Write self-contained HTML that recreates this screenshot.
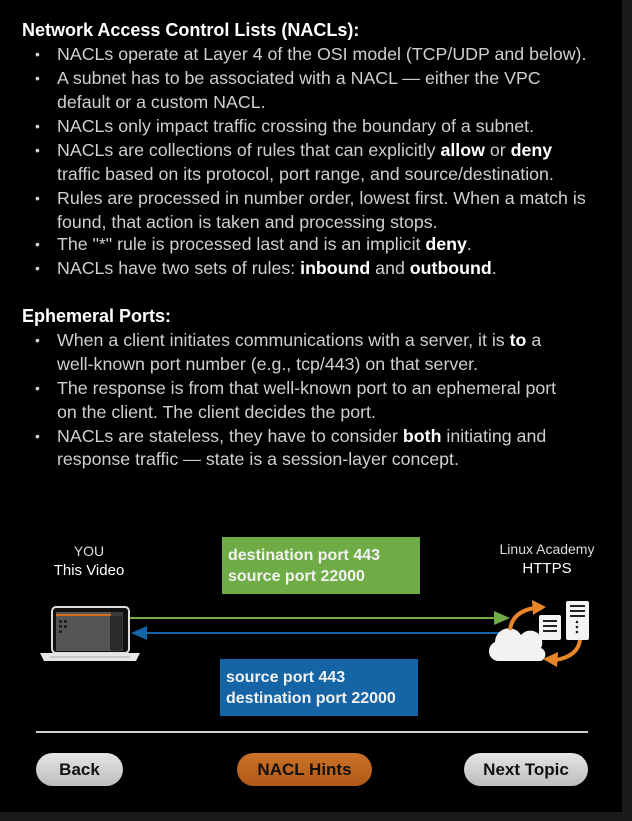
<!DOCTYPE html>
<html><head><meta charset="utf-8"><style>
*{margin:0;padding:0;box-sizing:border-box}
body{width:632px;height:821px;background:#000;position:relative;overflow:hidden;font-family:"Liberation Sans",sans-serif}
.strip{position:absolute;left:622px;top:0;width:10px;height:821px;background:#1a1a1a}
.bot{position:absolute;left:0;top:812px;width:632px;height:9px;background:#1a1a1a}
.t{position:absolute;white-space:nowrap;font-size:17.8px;line-height:24px;color:#cfcfcf}
.h{left:22px;color:#fff;font-weight:bold;font-size:18px}
.l{left:57px}
.b{left:35px;font-size:14px}
b{color:#fff}
.box{position:absolute;color:#f2f2f2;font-weight:bold;font-size:16px;line-height:21px;padding:8px 0 0 6px}
.lbl{position:absolute;text-align:center;font-size:14px;color:#ddd;width:120px}
.btn{position:absolute;top:753px;height:33px;border-radius:17px;font-weight:bold;font-size:17px;line-height:33px;text-align:center;color:#111;background:linear-gradient(#e4e4e4,#bdbdbd)}
</style></head><body>
<div class="strip"></div><div class="bot"></div>

<div class="t h" style="top:18px">Network Access Control Lists (NACLs):</div>
<div class="t b" style="top:42px">•</div><div class="t l" style="top:42px">NACLs operate at Layer 4 of the OSI model (TCP/UDP and below).</div>
<div class="t b" style="top:66px">•</div><div class="t l" style="top:66px">A subnet has to be associated with a NACL — either the VPC</div>
<div class="t l" style="top:90px">default or a custom NACL.</div>
<div class="t b" style="top:114px">•</div><div class="t l" style="top:114px">NACLs only impact traffic crossing the boundary of a subnet.</div>
<div class="t b" style="top:138px">•</div><div class="t l" style="top:138px">NACLs are collections of rules that can explicitly <b>allow</b> or <b>deny</b></div>
<div class="t l" style="top:162px">traffic based on its protocol, port range, and source/destination.</div>
<div class="t b" style="top:186px">•</div><div class="t l" style="top:186px">Rules are processed in number order, lowest first. When a match is</div>
<div class="t l" style="top:210px">found, that action is taken and processing stops.</div>
<div class="t b" style="top:232px">•</div><div class="t l" style="top:232px">The "*" rule is processed last and is an implicit <b>deny</b>.</div>
<div class="t b" style="top:256px">•</div><div class="t l" style="top:256px">NACLs have two sets of rules: <b>inbound</b> and <b>outbound</b>.</div>

<div class="t h" style="top:304px">Ephemeral Ports:</div>
<div class="t b" style="top:328px">•</div><div class="t l" style="top:328px">When a client initiates communications with a server, it is <b>to</b> a</div>
<div class="t l" style="top:352px">well-known port number (e.g., tcp/443) on that server.</div>
<div class="t b" style="top:376px">•</div><div class="t l" style="top:376px">The response is from that well-known port to an ephemeral port</div>
<div class="t l" style="top:400px">on the client. The client decides the port.</div>
<div class="t b" style="top:424px">•</div><div class="t l" style="top:424px">NACLs are stateless, they have to consider <b>both</b> initiating and</div>
<div class="t l" style="top:447px">response traffic — state is a session-layer concept.</div>

<div class="lbl" style="left:29px;top:543px">YOU</div>
<div class="lbl" style="left:29px;top:562px;font-size:15px;color:#fff">This Video</div>
<div class="lbl" style="left:487px;top:541px">Linux Academy</div>
<div class="lbl" style="left:487px;top:560px;font-size:15px;color:#fff">HTTPS</div>

<div class="box" style="left:222px;top:537px;width:198px;height:57px;background:#6fac46">destination port 443<br>source port 22000</div>
<div class="box" style="left:220px;top:659px;width:198px;height:57px;background:#1565a6">source port 443<br>destination port 22000</div>

<svg style="position:absolute;left:0;top:0" width="632" height="821">
 <line x1="130" y1="618" x2="496" y2="618" stroke="#6fac46" stroke-width="2"/>
 <polygon points="510,618 494,611 494,625" fill="#6fac46"/>
 <line x1="144" y1="633" x2="500" y2="633" stroke="#1565a6" stroke-width="2"/>
 <polygon points="131,633 147,626 147,640" fill="#1565a6"/>
 <rect x="52" y="607" width="77" height="46" rx="4" fill="#111" stroke="#ddd" stroke-width="2"/>
 <rect x="56" y="612" width="67" height="39" fill="#3a3a3a"/>
 <rect x="56" y="612" width="55" height="39" fill="#555"/>
 <rect x="56" y="614" width="55" height="2" fill="#d06a1e"/>
 <rect x="110" y="616" width="12" height="34" fill="#2a2a2a"/>
 <rect x="59" y="620" width="3" height="3" fill="#222"/><rect x="64" y="620" width="3" height="3" fill="#222"/>
 <rect x="59" y="625" width="3" height="3" fill="#222"/><rect x="64" y="625" width="3" height="3" fill="#222"/>
 <rect x="59" y="630" width="3" height="3" fill="#222"/>
 <polygon points="40,653 140,653 136,661 44,661" fill="#e6e6e6"/>
 <line x1="50" y1="657" x2="130" y2="657" stroke="#aaa" stroke-width="1"/>
 <rect x="539" y="615" width="22" height="25" rx="2" fill="#f4f4f4"/>
 <rect x="543" y="620" width="14" height="2" fill="#222"/><rect x="543" y="625" width="14" height="2" fill="#222"/><rect x="543" y="630" width="14" height="2" fill="#222"/>
 <rect x="566" y="601" width="23" height="39" rx="2" fill="#f4f4f4"/>
 <rect x="570" y="605" width="15" height="2" fill="#222"/><rect x="570" y="610" width="15" height="2" fill="#222"/><rect x="570" y="615" width="15" height="2" fill="#222"/>
 <circle cx="577" cy="622" r="1.3" fill="#222"/><circle cx="577" cy="627" r="1.3" fill="#222"/><circle cx="577" cy="632" r="1.3" fill="#222"/>
 <path d="M497 661 a10 10 0 0 1 -2 -19 a14 14 0 0 1 26 -7 a12 12 0 0 1 20 13 a7 7 0 0 1 0 13 z" fill="#f2f2f2"/>
 <path d="M510 630 q2 -18 24 -22" fill="none" stroke="#e8862a" stroke-width="4"/>
 <polygon points="532,600 546,607 533,615" fill="#e8862a"/>
 <path d="M580 640 q-2 16 -24 20" fill="none" stroke="#e8862a" stroke-width="4"/>
 <polygon points="558,652 543,659 557,667" fill="#e8862a"/>
 <line x1="36" y1="732" x2="588" y2="732" stroke="#cfcfcf" stroke-width="2"/>
</svg>

<div class="btn" style="left:36px;width:87px">Back</div>
<div class="btn" style="left:237px;width:135px;background:linear-gradient(#cc7228,#b05a18)">NACL Hints</div>
<div class="btn" style="left:464px;width:124px">Next Topic</div>
</body></html>
